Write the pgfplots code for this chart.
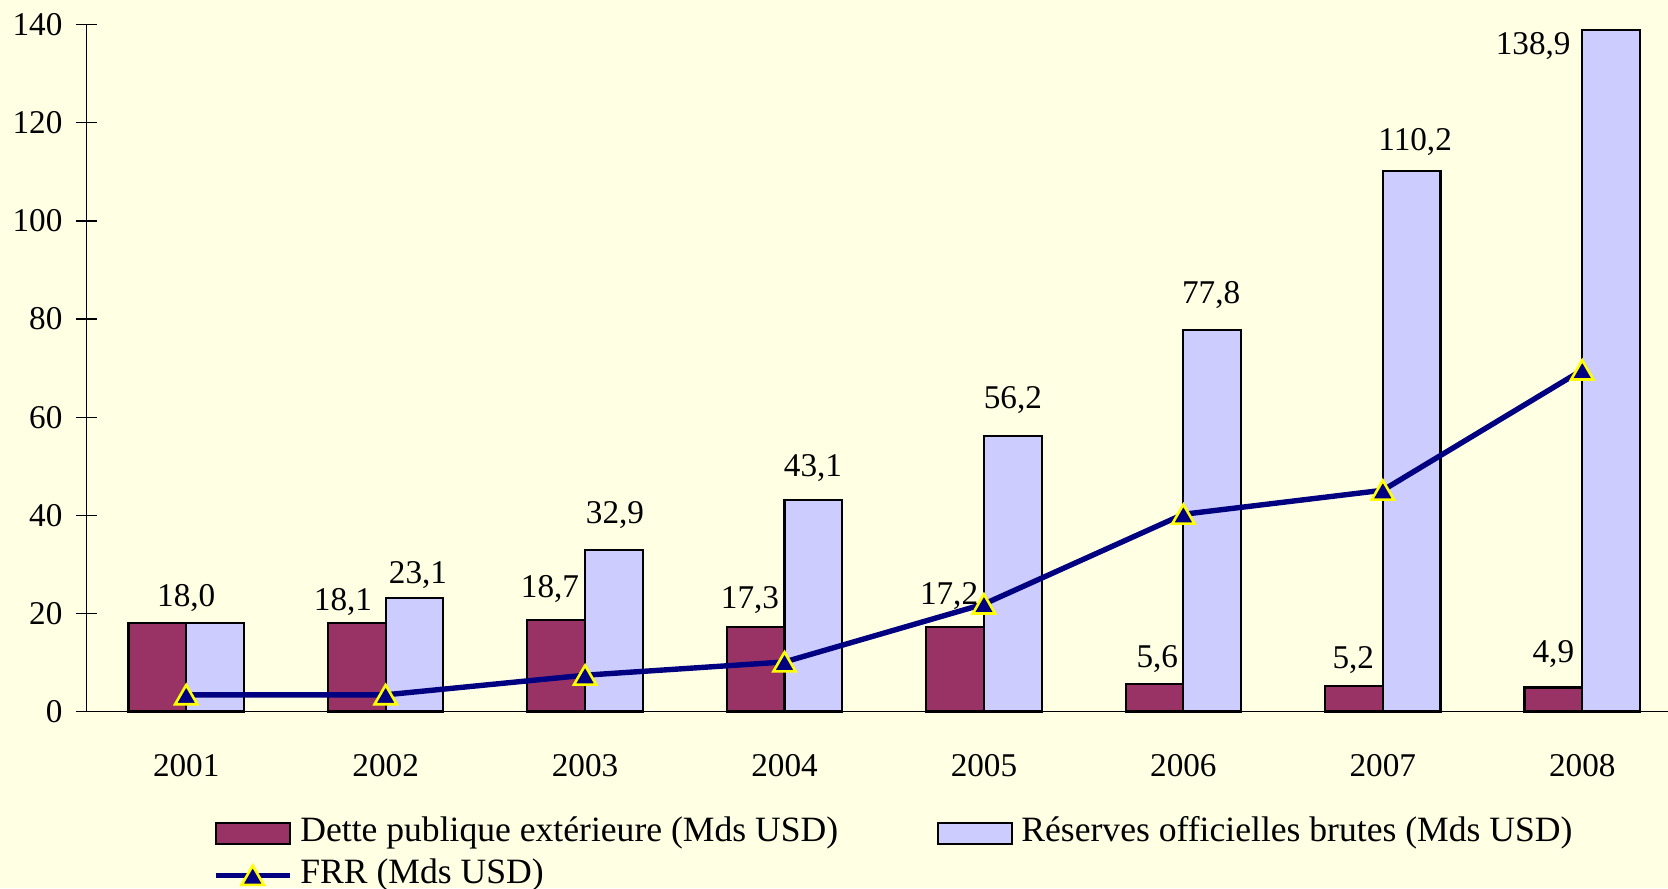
\documentclass[border=0pt]{standalone}
\usepackage{fontspec}
\setmainfont{Liberation Serif}
\usepackage{pgfplots}
\usepackage{pgfplotstable}
\pgfplotsset{compat=1.18}
\usetikzlibrary{backgrounds}
\definecolor{bg}{RGB}{255,255,228}
\definecolor{maroon}{RGB}{153,51,102}
\definecolor{lav}{RGB}{204,204,255}
\definecolor{navy}{RGB}{0,0,128}
\definecolor{yel}{RGB}{255,255,0}
\pgfplotsset{
  barleg/.style={legend image code/.code={\draw[##1] (0pt,-5.25pt) rectangle (37pt,5.25pt);}},
  lineleg/.style={legend image code/.code={\draw[mark repeat=2, mark phase=2, ##1] plot coordinates {(0pt,0pt) (18.5pt,0pt) (37pt,0pt)};}},
}
\pgfplotstableread{
x dette reserves frr
0 18.0 18.0 3.4
1 18.1 23.1 3.4
2 18.7 32.9 7.4
3 17.3 43.1 10.1
4 17.2 56.2 21.9
5 5.6 77.8 40.2
6 5.2 110.2 45.1
7 4.9 138.9 69.6
}\datatable
\pgfplotstableread{
x y label
0 21.5 18,0
0.786 20.5 18,1
1.162 26.0 23,1
1.824 23.2 18,7
2.150 38.3 32,9
2.827 20.9 17,3
3.143 48.0 43,1
3.825 21.9 17,2
4.145 61.7 56,2
4.869 8.9 5,6
5.139 83.1 77,8
5.852 8.7 5,2
6.162 114.3 110,2
6.855 9.9 4,9
6.754 134.0 138,9
}\labeltable
\begin{document}
\begin{tikzpicture}[font=\fontsize{16.6pt}{19.9pt}\selectfont]
\begin{axis}[
  scale only axis,
  width=790.75pt, height=343.4pt,
  xmin=-0.5, xmax=7.43,
  ymin=0, ymax=140,
  axis lines=left,
  axis line style={-, line width=0.6pt},
  tick align=center,
  major tick length=11pt,
  minor tick length=11pt,
  tick style={black, line width=0.6pt},
  xtick={0,...,7},
  xticklabels={2001,2002,2003,2004,2005,2006,2007,2008},
  xtick style={draw=none},
  minor xtick={0.5,1.5,...,6.5},
  minor x tick style={black, line width=0.6pt},
  ytick={0,20,...,140},
  /pgf/number format/assume math mode=true,
  yticklabel style={xshift=-3pt},
  xticklabel style={yshift=-12.2pt},
  clip=false,
  legend columns=2,
  legend cell align=left,
  legend style={at={(axis description cs:0,0)}, anchor=north west,
    xshift=63.25pt, yshift=-50.5pt,
    draw=none, fill=none, inner sep=0pt, outer sep=0pt,
    row sep=0pt,
    font=\fontsize{17.8pt}{21pt}\selectfont,
    nodes={inner sep=2.5pt, text height=12pt, text depth=4pt},
    /tikz/every odd column/.append style={column sep=1.5pt},
    /tikz/every even column/.append style={column sep=47pt}},
]
\addplot[ybar, bar width=28.85pt, bar shift=-14.425pt, fill=maroon, draw=black, line width=1.1pt, barleg]
  table[x=x, y=dette] {\datatable};
\addlegendentry{Dette publique extérieure (Mds USD)}
\addplot[ybar, bar width=28.85pt, bar shift=14.425pt, fill=lav, draw=black, line width=1.1pt, barleg]
  table[x=x, y=reserves] {\datatable};
\addlegendentry{Réserves officielles brutes (Mds USD)}
\addplot[sharp plot, navy, line width=2.7pt, mark=triangle*, mark size=6.4pt,
  mark options={fill=navy, draw=yel, line width=1.3pt, solid, yshift=-1.5pt}, lineleg]
  table[x=x, y=frr] {\datatable};
\addlegendentry{FRR (Mds USD)}
\addplot[forget plot, draw=none, mark=none, point meta=explicit symbolic,
  nodes near coords=\pgfplotspointmeta,
  nodes near coords align={anchor=base},
  every node near coord/.append style={inner sep=0pt, black}]
  table[x=x, y=y, meta=label] {\labeltable};
\coordinate (O) at (rel axis cs:0,0);
\end{axis}
\pgfresetboundingbox
\begin{scope}[on background layer]
\fill[bg] (O) ++(-43.25pt,-88.25pt) rectangle ++(834pt,444pt);
\end{scope}
\path[use as bounding box] (O) ++(-43.25pt,-88.25pt) rectangle ++(834pt,444pt);
\end{tikzpicture}
\end{document}
